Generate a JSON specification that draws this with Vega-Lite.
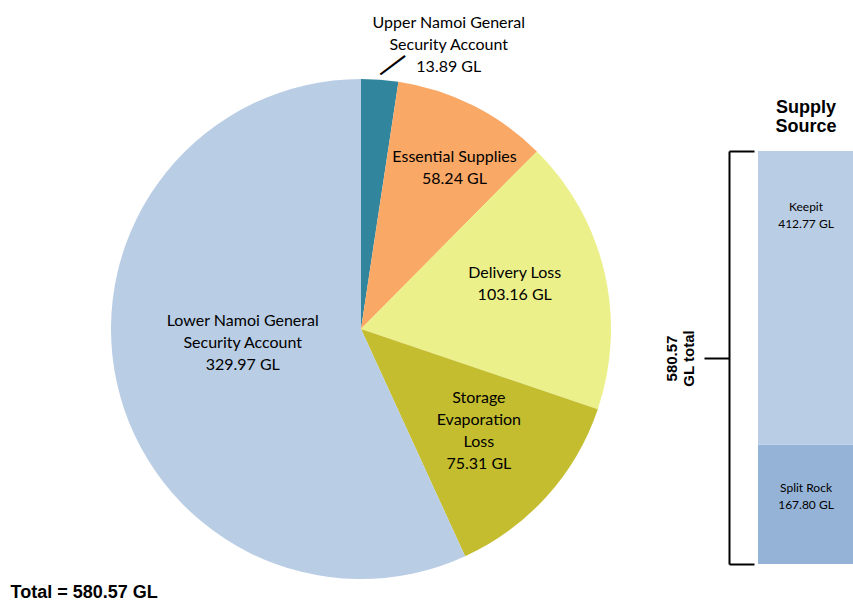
{
  "$schema": "https://vega.github.io/schema/vega-lite/v6.json",
  "autosize": {"type": "pad"},
  "padding": {"left": 10, "top": 14, "right": 0, "bottom": 0},
  "bounds": "flush",
  "spacing": 147,
  "background": "white",
  "config": {"view": {"stroke": null}},
  "resolve": {"scale": {"color": "independent"}},
  "title": {
    "text": "Total = 580.57 GL",
    "orient": "bottom",
    "anchor": "start",
    "dx": -96,
    "offset": 5,
    "font": "Liberation Sans",
    "fontSize": 18,
    "fontWeight": "bold",
    "color": "#000000"
  },
  "hconcat": [
    {
      "width": 500,
      "height": 500,
      "data": {
        "values": [
          {"order": 1, "name": "Upper Namoi General Security Account", "value": 13.89, "label": "Upper Namoi General\nSecurity Account\n13.89 GL"},
          {"order": 2, "name": "Essential Supplies", "value": 58.24, "label": "Essential Supplies\n58.24 GL"},
          {"order": 3, "name": "Delivery Loss", "value": 103.16, "label": "Delivery Loss\n103.16 GL"},
          {"order": 4, "name": "Storage Evaporation Loss", "value": 75.31, "label": "Storage\nEvaporation\nLoss\n75.31 GL"},
          {"order": 5, "name": "Lower Namoi General Security Account", "value": 329.97, "label": "Lower Namoi General\nSecurity Account\n329.97 GL"}
        ]
      },
      "layer": [
        {
          "mark": {"type": "arc"},
          "encoding": {
            "theta": {"field": "value", "type": "quantitative", "stack": true},
            "order": {"field": "order", "type": "quantitative"},
            "color": {
              "field": "name",
              "type": "nominal",
              "legend": null,
              "scale": {
                "domain": ["Upper Namoi General Security Account", "Essential Supplies", "Delivery Loss", "Storage Evaporation Loss", "Lower Namoi General Security Account"],
                "range": ["#31859C", "#F9A866", "#EBF08A", "#C4BD30", "#B9CDE5"]
              }
            }
          }
        },
        {
          "mark": {
            "type": "text",
            "font": "Lato",
            "fontSize": 16,
            "lineHeight": 22,
            "lineBreak": "\n",
            "align": "center",
            "baseline": "middle",
            "color": "#000000",
            "radius": {"expr": "datum.order === 1 ? 290 : datum.order === 2 ? 186 : datum.order === 3 ? 160 : datum.order === 4 ? 156 : 119"},
            "dx": {"expr": "datum.order === 1 ? 66 : datum.order === 2 ? 10 : datum.order === 3 ? -2 : datum.order === 4 ? 2 : -2"},
            "dy": {"expr": "datum.order === 1 ? -17 : datum.order === 2 ? -6 : datum.order === 3 ? -19 : datum.order === 4 ? -35 : -33"}
          },
          "encoding": {
            "theta": {"field": "value", "type": "quantitative", "stack": true},
            "order": {"field": "order", "type": "quantitative"},
            "text": {"field": "label", "type": "nominal"}
          }
        },
        {
          "mark": {
            "type": "text",
            "font": "Liberation Sans",
            "fontSize": 31,
            "angle": -37,
            "align": "center",
            "baseline": "middle",
            "color": "#000000",
            "radius": 262,
            "dx": 11,
            "dy": 4
          },
          "encoding": {
            "theta": {"field": "value", "type": "quantitative", "stack": true},
            "order": {"field": "order", "type": "quantitative"},
            "text": {"condition": {"test": "datum.order === 1", "value": "—"}, "value": ""}
          }
        }
      ]
    },
    {
      "width": 96,
      "height": 485,
      "title": {
        "text": ["Supply", "Source"],
        "anchor": "middle",
        "offset": -57,
        "font": "Liberation Sans",
        "fontSize": 18,
        "fontWeight": "bold",
        "lineHeight": 19,
        "color": "#000000"
      },
      "data": {
        "values": [
          {"order": 1, "source": "Split Rock", "value": 167.80, "label": "Split Rock\n167.80 GL"},
          {"order": 2, "source": "Keepit", "value": 412.77, "label": "Keepit\n412.77 GL"}
        ]
      },
      "encoding": {
        "x": {
          "datum": "Supply Source",
          "type": "nominal",
          "axis": null,
          "scale": {"paddingInner": 0, "paddingOuter": 0}
        },
        "y": {
          "field": "value",
          "type": "quantitative",
          "stack": true,
          "scale": {"domain": [0, 681.8], "nice": false, "zero": true},
          "axis": {
            "orient": "left",
            "title": ["580.57", "GL total"],
            "titleFont": "Liberation Sans",
            "titleFontSize": 15,
            "titleFontWeight": "bold",
            "titleColor": "#000000",
            "titleLineHeight": 17,
            "titleBaseline": "middle",
            "titleAngle": 270,
            "titleX": -58,
            "titleY": 279,
            "labels": false,
            "grid": false,
            "values": [0, 290.285, 580.57],
            "offset": 29,
            "domain": true,
            "domainColor": "#000000",
            "domainWidth": 2,
            "domainDash": [413, 300],
            "ticks": true,
            "tickColor": "#000000",
            "tickWidth": 2,
            "tickSize": {"condition": {"test": "datum.value > 290 && datum.value < 291", "value": 25}, "value": -25}
          }
        },
        "order": {"field": "order", "type": "quantitative"}
      },
      "layer": [
        {
          "mark": {"type": "bar"},
          "encoding": {
            "color": {
              "field": "source",
              "type": "nominal",
              "legend": null,
              "scale": {"domain": ["Keepit", "Split Rock"], "range": ["#B9CDE5", "#95B3D7"]}
            }
          }
        },
        {
          "mark": {
            "type": "text",
            "font": "Lato",
            "fontSize": 12,
            "lineHeight": 17,
            "lineBreak": "\n",
            "align": "center",
            "baseline": "middle",
            "color": "#000000",
            "dy": {"expr": "datum.order === 2 ? 56 : 43"}
          },
          "encoding": {
            "text": {"field": "label", "type": "nominal"}
          }
        }
      ]
    }
  ]
}
